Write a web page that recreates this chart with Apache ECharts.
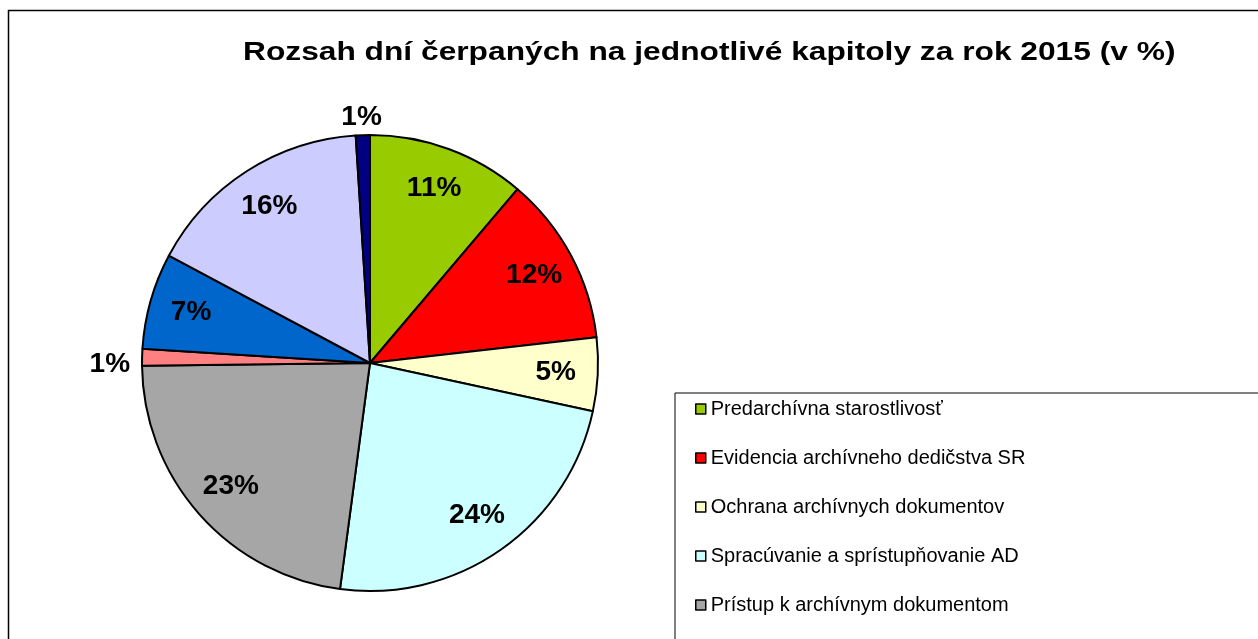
<!DOCTYPE html>
<html>
<head>
<meta charset="utf-8">
<script src="https://cdn.jsdelivr.net/npm/echarts@6/dist/echarts.min.js"></script>
<style>
  html, body { margin: 0; padding: 0; background: #fff; }
  #chart { width: 1258px; height: 639px; }
</style>
</head>
<body>
<div id="chart"></div>
<script>
var chapters = [
  'Predarchívna starostlivosť',
  'Evidencia archívneho dedičstva SR',
  'Ochrana archívnych dokumentov',
  'Spracúvanie a sprístupňovanie AD',
  'Prístup k archívnym dokumentom',
  'Metodika',
  'Vedecký výskum',
  'Ostatné činnosti',
  'Medzinárodná spolupráca'
];
var shares = [11.2, 12.0, 5.2, 23.7, 22.7, 1.2, 6.8, 16.2, 1.0];
var colors = ['#99CC00', '#FF0000', '#FFFFCC', '#CCFFFF', '#A6A6A6', '#FF8080', '#0066CC', '#CCCCFF', '#000080'];
// small slices get their label outside the pie
var outsideLabel = [false, false, false, false, false, true, false, false, true];

var chart = echarts.init(document.getElementById('chart'));

var labelFont = {
  fontFamily: 'Liberation Sans, Arial, sans-serif',
  fontWeight: 'bold',
  fontSize: 28,
  color: '#000'
};

var mainData = chapters.map(function (name, i) {
  return {
    name: name,
    value: shares[i],
    itemStyle: { color: colors[i] },
    label: { show: outsideLabel[i] }
  };
});

// transparent helper ring, used only to push inside labels out to ~0.8 of the radius
var labelData = chapters.map(function (name, i) {
  return {
    name: name,
    value: shares[i],
    label: { show: !outsideLabel[i] }
  };
});

// nudges for the two outside labels
var outsideNudge = { 5: [-5, 7], 8: [24, -16] };

var option = {
  animation: false,
  backgroundColor: '#fff',
  legend: {
    orient: 'vertical',
    left: 675,
    top: 393,
    height: 1000,
    padding: [6, 400, 10, 20],
    borderColor: '#000',
    borderWidth: 1,
    icon: 'rect',
    itemWidth: 10,
    itemHeight: 10,
    itemGap: 29,
    data: chapters,
    itemStyle: { borderColor: '#000', borderWidth: 1.5 },
    textStyle: {
      fontFamily: 'Liberation Sans, Arial, sans-serif',
      fontSize: 20,
      lineHeight: 20,
      color: '#000'
    }
  },
  graphic: [{
    type: 'rect',
    shape: { x: 8.5, y: 10.5, width: 1400, height: 800 },
    style: { fill: 'none', stroke: '#000', lineWidth: 1.5 },
    silent: true
  }, {
    type: 'text',
    x: 243,
    y: 40,
    scaleX: 1.22,
    silent: true,
    style: {
      text: 'Rozsah dní čerpaných na jednotlivé kapitoly za rok 2015 (v %)',
      font: 'bold 26px "Liberation Sans", Arial, sans-serif',
      fill: '#000'
    }
  }],
  series: [{
    type: 'pie',
    center: [370, 363],
    radius: 228,
    startAngle: 90,
    percentPrecision: 0,
    itemStyle: { borderColor: '#000', borderWidth: 2 },
    label: Object.assign({ position: 'outside', formatter: '{d}%' }, labelFont),
    labelLine: { show: false, length: 2, length2: 0 },
    labelLayout: function (params) {
      var n = outsideNudge[params.dataIndex];
      return n ? { dx: n[0], dy: n[1] } : {};
    },
    emphasis: { disabled: true },
    data: mainData
  }, {
    type: 'pie',
    center: [370, 363],
    radius: 366,
    startAngle: 90,
    percentPrecision: 0,
    silent: true,
    z: 5,
    itemStyle: { color: 'rgba(0,0,0,0)', borderWidth: 0 },
    label: Object.assign({ position: 'inside', formatter: '{d}%' }, labelFont),
    labelLine: { show: false },
    emphasis: { disabled: true },
    data: labelData
  }]
};

chart.setOption(option);
</script>
</body>
</html>
